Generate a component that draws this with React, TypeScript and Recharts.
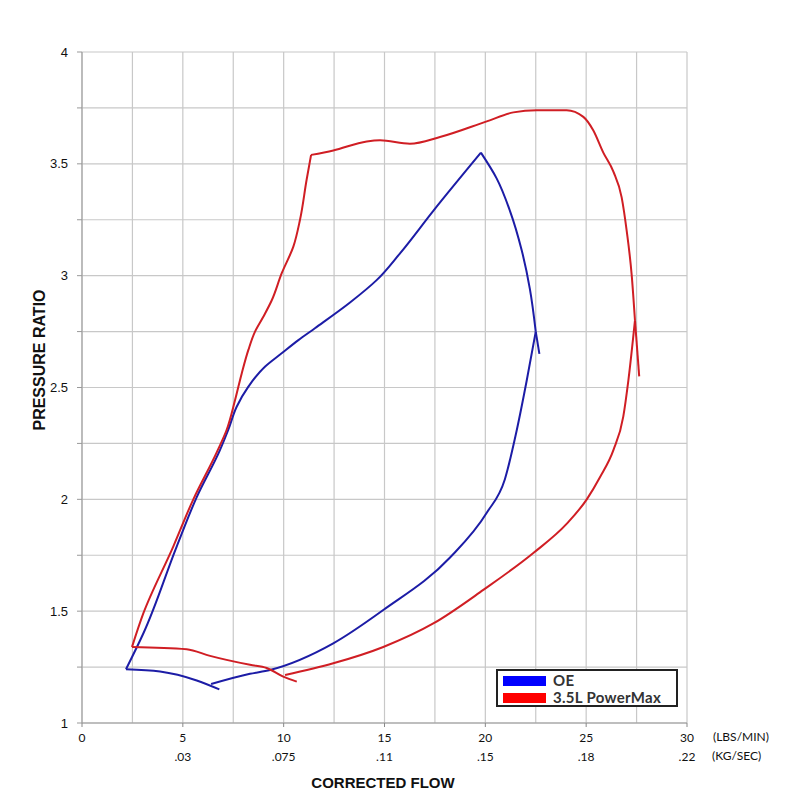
import { LineChart, Line, XAxis, YAxis, CartesianGrid } from 'recharts';

type Pt = { x: number; y: number };

const flowTicks = [0, 2.5, 5, 7.5, 10, 12.5, 15, 17.5, 20, 22.5, 25, 27.5, 30];
const kgLabels: { [k: number]: string } = { 0: '', 5: '.03', 10: '.075', 15: '.11', 20: '.15', 25: '.18', 30: '.22' };
const ratioTicks = [1, 1.25, 1.5, 1.75, 2, 2.25, 2.5, 2.75, 3, 3.25, 3.5, 3.75, 4];

// OE compressor map
const oeSurge: Pt[] = [
  { x: 2.18, y: 1.24 }, { x: 3.04, y: 1.4 }, { x: 4.7, y: 1.79 }, { x: 5.69, y: 2.01 },
  { x: 6.84, y: 2.22 }, { x: 7.25, y: 2.31 }, { x: 7.67, y: 2.414 }, { x: 8.25, y: 2.504 },
  { x: 9.07, y: 2.593 }, { x: 9.9, y: 2.653 }, { x: 10.73, y: 2.712 }, { x: 11.55, y: 2.765 },
  { x: 13.29, y: 2.88 }, { x: 14.61, y: 2.98 }, { x: 15.77, y: 3.1 }, { x: 17.42, y: 3.29 },
  { x: 19.78, y: 3.55 },
];
// ordered from the choke corner up to the peak
const oeMaxSpeed: Pt[] = [
  { x: 22.5, y: 2.75 }, { x: 22.21, y: 2.94 }, { x: 21.8, y: 3.115 }, { x: 21.22, y: 3.29 },
  { x: 20.56, y: 3.435 }, { x: 19.78, y: 3.55 },
];
const oeTail: Pt[] = [{ x: 22.5, y: 2.75 }, { x: 22.68, y: 2.65 }];
const oeChoke: Pt[] = [
  { x: 6.4, y: 1.174 }, { x: 8.33, y: 1.22 }, { x: 9.32, y: 1.237 }, { x: 12.46, y: 1.356 },
  { x: 14.94, y: 1.505 }, { x: 18.25, y: 1.74 }, { x: 20.07, y: 1.94 }, { x: 20.97, y: 2.09 },
  { x: 21.56, y: 2.31 }, { x: 22.05, y: 2.53 }, { x: 22.5, y: 2.75 },
];
const oeLow: Pt[] = [{ x: 2.18, y: 1.24 }, { x: 3.87, y: 1.23 }, { x: 5.69, y: 1.19 }, { x: 6.81, y: 1.15 }];

// 3.5L PowerMax compressor map
const pmSurge: Pt[] = [
  { x: 2.48, y: 1.34 }, { x: 3.04, y: 1.49 }, { x: 4.53, y: 1.79 }, { x: 5.52, y: 2.0 },
  { x: 6.68, y: 2.21 }, { x: 7.17, y: 2.31 }, { x: 7.59, y: 2.444 }, { x: 7.92, y: 2.563 },
  { x: 8.25, y: 2.668 }, { x: 8.58, y: 2.75 }, { x: 8.99, y: 2.816 }, { x: 9.41, y: 2.89 },
  { x: 9.9, y: 3.01 }, { x: 10.48, y: 3.13 }, { x: 10.81, y: 3.25 }, { x: 11.14, y: 3.43 },
  { x: 11.36, y: 3.54 },
];
const pmMaxSpeed: Pt[] = [
  { x: 11.36, y: 3.54 }, { x: 12.46, y: 3.56 }, { x: 14.12, y: 3.6 }, { x: 14.78, y: 3.605 },
  { x: 16.26, y: 3.59 }, { x: 17.75, y: 3.62 }, { x: 20.07, y: 3.69 }, { x: 21.39, y: 3.73 },
  { x: 22.55, y: 3.74 }, { x: 24.03, y: 3.74 }, { x: 24.86, y: 3.71 }, { x: 25.35, y: 3.65 },
  { x: 25.85, y: 3.55 }, { x: 26.35, y: 3.465 }, { x: 26.76, y: 3.35 }, { x: 27.01, y: 3.2 },
  { x: 27.26, y: 3.0 }, { x: 27.42, y: 2.8 },
];
const pmTail: Pt[] = [{ x: 27.42, y: 2.8 }, { x: 27.63, y: 2.55 }];
const pmChoke: Pt[] = [
  { x: 10.07, y: 1.215 }, { x: 12.46, y: 1.267 }, { x: 14.94, y: 1.34 }, { x: 17.42, y: 1.445 },
  { x: 19.9, y: 1.595 }, { x: 22.38, y: 1.76 }, { x: 24.03, y: 1.89 }, { x: 25.03, y: 2.0 },
  { x: 25.69, y: 2.1 }, { x: 26.35, y: 2.22 }, { x: 26.84, y: 2.37 }, { x: 27.09, y: 2.53 },
  { x: 27.42, y: 2.8 },
];
const pmLow: Pt[] = [
  { x: 2.48, y: 1.34 }, { x: 5.19, y: 1.33 }, { x: 6.35, y: 1.3 }, { x: 8.33, y: 1.26 },
  { x: 9.16, y: 1.246 }, { x: 9.98, y: 1.207 }, { x: 10.65, y: 1.185 },
];

const OE_COLOR = '#1c1ca6';
const PM_COLOR = '#d01e24';
const labelFont = 'Lato, "Open Sans", sans-serif';
const titleFont = '"Liberation Sans Narrow", "Liberation Sans", Arial, sans-serif';

const FlowTick = ({ x, y, payload }: any) => {
  const v = payload.value;
  if (v % 5 !== 0) return <g />;
  return (
    <g>
      <line x1={x} x2={x} y1={y - 8} y2={y - 4} stroke="#888" />
      <text x={x} y={y + 11} textAnchor="middle" fontSize={12} fill="#111" fontFamily={labelFont}>{v}</text>
      <text x={x} y={y + 30} textAnchor="middle" fontSize={12} fill="#111" fontFamily={labelFont}>{kgLabels[v]}</text>
    </g>
  );
};

const seg = (data: Pt[], color: string, key: string, curve: 'monotoneX' | 'monotoneY' | 'linear' = 'monotoneX') => (
  <Line key={key} data={data} dataKey="y" type={curve} stroke={color} strokeWidth={2} dot={false} isAnimationActive={false} legendType="none" />
);

const swatch = (color: string) => (
  <span style={{ display: 'inline-block', width: 43, height: 10, background: color, marginRight: 7 }} />
);

export default function App() {
  return (
    <div style={{ position: 'absolute', left: 0, top: 0, width: 800, height: 800, background: '#fff' }}>
      <LineChart width={800} height={800} margin={{ top: 52, right: 113, bottom: 47, left: 32 }}>
        <CartesianGrid stroke="#c8c8c8" strokeWidth={1.2} />
        <XAxis type="number" dataKey="x" domain={[0, 30]} ticks={flowTicks} interval={0} tick={<FlowTick />} tickLine={false} axisLine={{ stroke: '#999' }} height={30} allowDuplicatedCategory={false} />
        <YAxis type="number" domain={[1, 4]} ticks={ratioTicks} interval={0} width={50} tickSize={5} tickMargin={9}
          tickFormatter={(v: number) => (v % 0.5 === 0 ? String(v) : '')}
          tick={{ fill: '#111', fontSize: 13, fontFamily: 'Arial, "Liberation Sans", sans-serif' }}
          tickLine={{ stroke: '#999' }} axisLine={{ stroke: '#999' }} />
        {seg(oeLow, OE_COLOR, 'oeLow')}
        {seg(oeSurge, OE_COLOR, 'oeSurge', 'monotoneY')}
        {seg(oeMaxSpeed, OE_COLOR, 'oeMax', 'monotoneY')}
        {seg(oeTail, OE_COLOR, 'oeTail', 'linear')}
        {seg(oeChoke, OE_COLOR, 'oeChoke')}
        {seg(pmLow, PM_COLOR, 'pmLow')}
        {seg(pmSurge, PM_COLOR, 'pmSurge', 'monotoneY')}
        {seg(pmMaxSpeed, PM_COLOR, 'pmMax')}
        {seg(pmTail, PM_COLOR, 'pmTail', 'linear')}
        {seg(pmChoke, PM_COLOR, 'pmChoke')}
      </LineChart>
      <div style={{ position: 'absolute', left: 496, top: 669, width: 182, height: 38, border: '2px solid #222', background: '#fff', boxSizing: 'border-box', padding: '1px 0 0 5px', fontFamily: labelFont, fontWeight: 700, fontSize: 15, letterSpacing: 0.3, color: '#333', lineHeight: '17px' }}>
        <div style={{ display: 'flex', alignItems: 'center', height: 17 }}>{swatch('#0000ff')}OE</div>
        <div style={{ display: 'flex', alignItems: 'center', height: 17 }}>{swatch('#ff0000')}3.5L PowerMax</div>
      </div>
      <div style={{ position: 'absolute', left: 713, top: 729, fontSize: 12, fontFamily: labelFont, color: '#111' }}>(LBS/MIN)</div>
      <div style={{ position: 'absolute', left: 712, top: 748, fontSize: 12, fontFamily: labelFont, color: '#111' }}>(KG/SEC)</div>
      <div style={{ position: 'absolute', left: 283, top: 774, width: 200, textAlign: 'center', fontSize: 15, fontWeight: 700, fontFamily: titleFont, color: '#111' }}>CORRECTED FLOW</div>
      <div style={{ position: 'absolute', left: 40, top: 360, width: 200, marginLeft: -100, marginTop: -10, height: 20, lineHeight: '20px', textAlign: 'center', transform: 'rotate(-90deg)', fontSize: 16, fontWeight: 700, fontFamily: titleFont, color: '#111' }}>PRESSURE RATIO</div>
    </div>
  );
}
